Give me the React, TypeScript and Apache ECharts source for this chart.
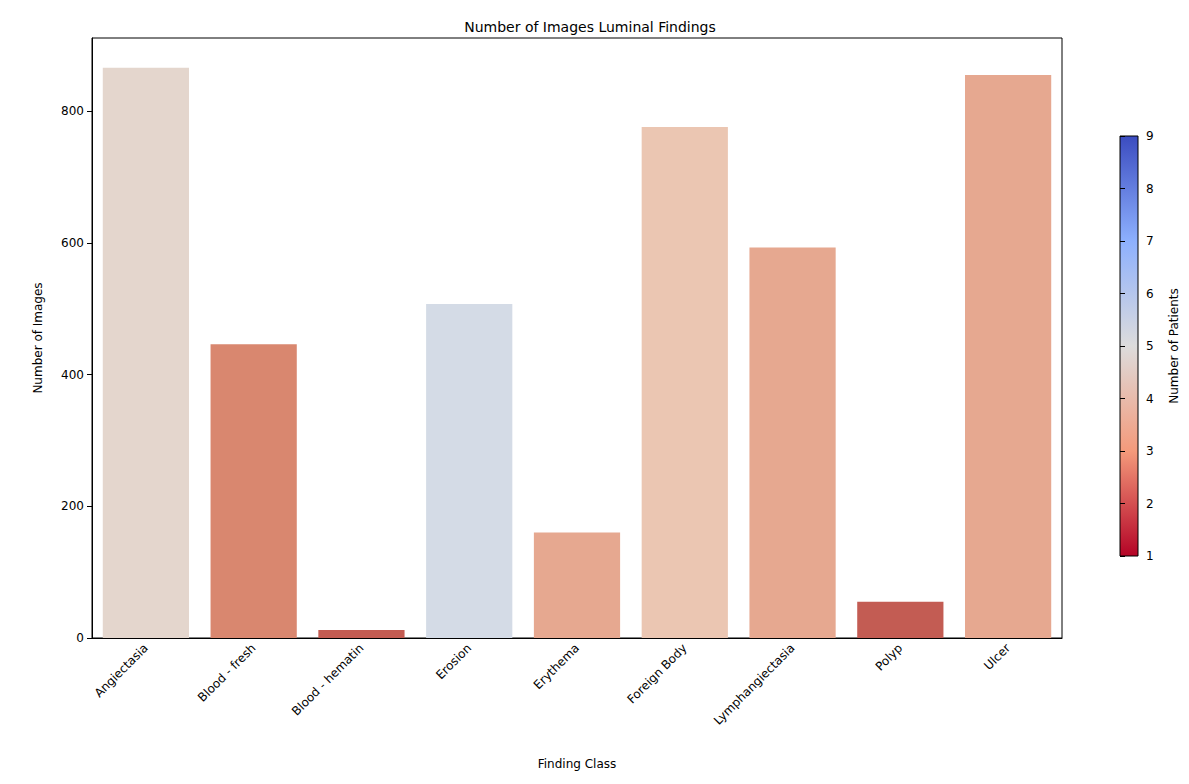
import { useEffect, useRef } from "react";
import * as echarts from "echarts";

const categories = [
  "Angiectasia",
  "Blood - fresh",
  "Blood - hematin",
  "Erosion",
  "Erythema",
  "Foreign Body",
  "Lymphangiectasia",
  "Polyp",
  "Ulcer",
];
const imageCounts = [866, 446, 12, 507, 160, 776, 593, 55, 855];
const barColors = [
  "#e4d6cd", "#d9876f", "#c45c52", "#d4dbe6", "#e6a890",
  "#ebc6b2", "#e6a890", "#c35c53", "#e6a890",
];
const yTicks = [0, 200, 400, 600, 800];
const patientTicks = [1, 2, 3, 4, 5, 6, 7, 8, 9];

const FONT = "DejaVu Sans";

export default function App() {
  const ref = useRef<HTMLDivElement | null>(null);

  useEffect(() => {
    if (!ref.current) return undefined;
    const chart = echarts.init(ref.current, undefined, { renderer: "svg" });
    chart.setOption({
      animation: false,
      textStyle: { fontFamily: FONT },
      title: {
        text: "Number of Images Luminal Findings",
        left: 577,
        textAlign: "center",
        top: 7,
        textStyle: { fontFamily: FONT, fontSize: 14, fontWeight: "normal", color: "#000" },
      },
      grid: [
        { left: 84, right: 119, top: 30, bottom: 138, show: true, borderColor: "#000", borderWidth: 1 },
        { left: 1112, width: 18, top: 128, height: 420, show: false },
      ],
      xAxis: [
        {
          type: "category",
          data: categories,
          gridIndex: 0,
          name: "Finding Class",
          nameLocation: "middle",
          nameGap: 120,
          nameTextStyle: { fontSize: 12, color: "#000" },
          axisLine: { lineStyle: { color: "#000" } },
          axisTick: { alignWithLabel: true, lineStyle: { color: "#000" } },
          axisLabel: { rotate: 45, fontSize: 12, color: "#000", margin: 8 },
        },
        { type: "value", gridIndex: 1, show: false, min: 0, max: 1 },
      ],
      yAxis: [
        {
          type: "value",
          gridIndex: 0,
          min: 0,
          max: 911,
          interval: 200,
          name: "Number of Images",
          nameLocation: "middle",
          nameGap: 48,
          nameTextStyle: { fontSize: 12, color: "#000" },
          splitLine: { show: false },
          axisLine: { show: true, lineStyle: { color: "#000" } },
          axisTick: { show: true, lineStyle: { color: "#000" } },
          axisLabel: {
            fontSize: 12,
            color: "#000",
            showMaxLabel: false,
            formatter: (v: number) => (yTicks.includes(v) ? String(v) : ""),
          },
        },
        {
          type: "value",
          gridIndex: 1,
          position: "right",
          min: 1,
          max: 9,
          interval: 1,
          name: "Number of Patients",
          nameLocation: "middle",
          nameGap: 30,
          nameRotate: 90,
          nameTextStyle: { fontSize: 12, color: "#000" },
          splitLine: { show: false },
          axisLine: { show: false },
          axisTick: { show: true, lineStyle: { color: "#000" } },
          axisLabel: {
            fontSize: 12,
            color: "#000",
            formatter: (v: number) => (patientTicks.includes(v) ? String(v) : ""),
          },
        },
      ],
      series: [
        {
          type: "bar",
          xAxisIndex: 0,
          yAxisIndex: 0,
          barCategoryGap: "20%",
          data: imageCounts.map((v, i) => ({ value: v, itemStyle: { color: barColors[i] } })),
        },
      ],
      graphic: [
        {
          type: "rect",
          shape: { x: 1112, y: 128, width: 18, height: 420 },
          style: {
            stroke: "#000",
            lineWidth: 1,
            fill: new echarts.graphic.LinearGradient(0, 0, 0, 1, [
              { offset: 0, color: "#3b4cc0" },
              { offset: 0.25, color: "#8db0fe" },
              { offset: 0.5, color: "#dddcdc" },
              { offset: 0.75, color: "#f49a7b" },
              { offset: 1, color: "#b40426" },
            ]),
          },
        },
      ],
    });
    return () => chart.dispose();
  }, []);

  return <div ref={ref} style={{ width: 1173, height: 768 }} />;
}
